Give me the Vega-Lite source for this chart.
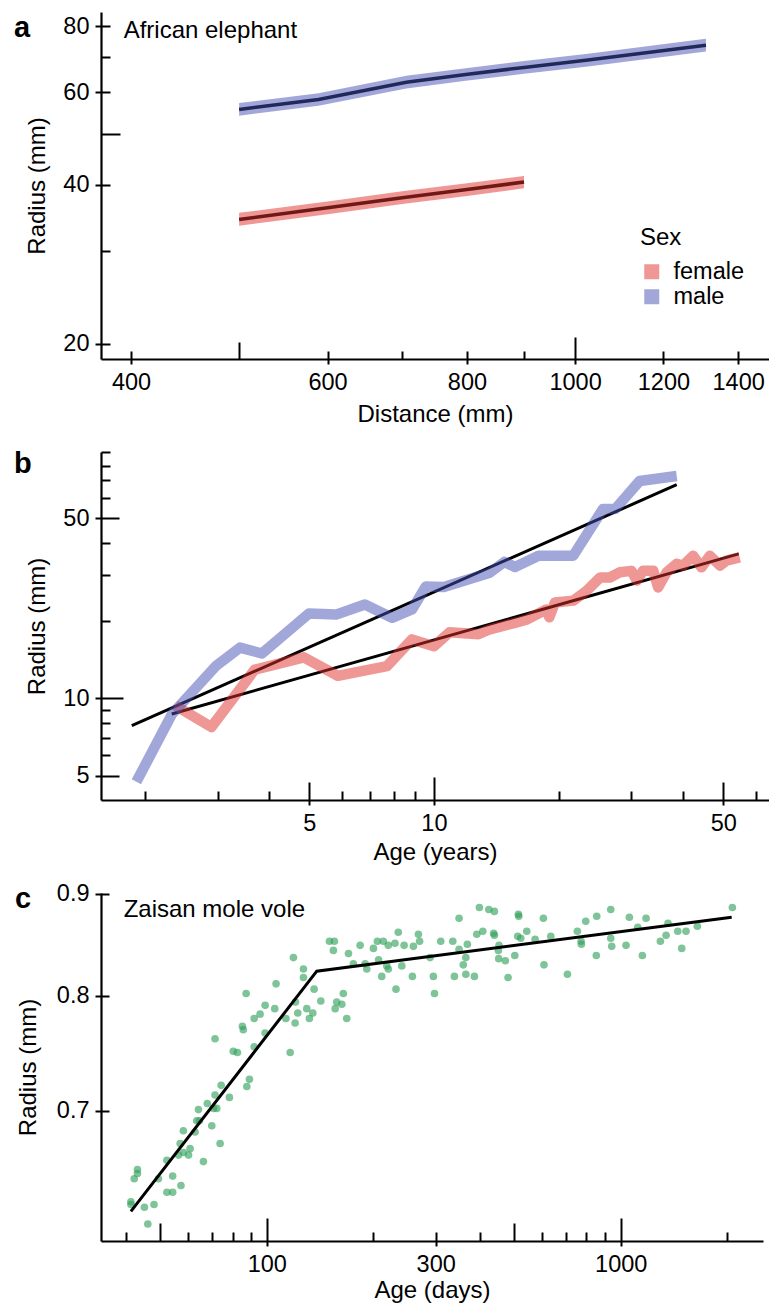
{
  "$schema": "https://vega.github.io/schema/vega-lite/v6.json",
  "background": "white",
  "padding": {"left": 14, "top": 12, "right": 0, "bottom": 0},
  "spacing": 93,
  "bounds": "flush",
  "config": {
    "view": {"stroke": null},
    "font": "Liberation Sans",
    "axis": {"grid": false, "domainColor": "black", "domainWidth": 2.2, "tickColor": "black", "tickWidth": 2, "labelColor": "black", "labelFontSize": 23.5, "titleFontSize": 24, "titleFontWeight": "normal", "titleColor": "black", "labelFont": "Liberation Sans", "titleFont": "Liberation Sans", "labelOverlap": false, "labelBound": false, "labelFlush": false}
  },
  "vconcat": [
    {
      "width": 668, "height": 347,
      "title": {"text": "a", "anchor": "start", "frame": "group", "orient": "top", "baseline": "alphabetic", "offset": -54, "dx": -87, "fontSize": 29, "fontWeight": "bold", "font": "Liberation Sans", "color": "black"},
      "data": {"values": [
        {"sex":"female","dist":500,"r":34.4,"lo":33.45,"hi":35.4},
        {"sex":"female","dist":600,"r":36.2,"lo":35.2,"hi":37.2},
        {"sex":"female","dist":700,"r":37.8,"lo":36.8,"hi":38.9},
        {"sex":"female","dist":800,"r":39.2,"lo":38.1,"hi":40.3},
        {"sex":"female","dist":900,"r":40.5,"lo":39.4,"hi":41.6},
        {"sex":"male","dist":500,"r":55.6,"lo":54.1,"hi":57.2},
        {"sex":"male","dist":589,"r":58.1,"lo":56.5,"hi":59.7},
        {"sex":"male","dist":706,"r":62.6,"lo":60.9,"hi":64.4},
        {"sex":"male","dist":798,"r":64.8,"lo":63.0,"hi":66.6},
        {"sex":"male","dist":900,"r":66.8,"lo":65.0,"hi":68.7},
        {"sex":"male","dist":1027,"r":69.0,"lo":67.1,"hi":70.9},
        {"sex":"male","dist":1310,"r":73.6,"lo":71.6,"hi":75.7}
      ]},
      "layer": [
        {
          "mark": {"type": "line", "color": "black", "strokeWidth": 3.5},
          "encoding": {
            "x": {"field": "dist", "type": "quantitative", "scale": {"type": "log", "domain": [376, 1492], "nice": false},
                  "axis": {"orient": "bottom", "values": [400,600,800,1000,1200,1400], "format": "d", "tickSize": 5, "labelPadding": 6, "title": "Distance (mm)", "titlePadding": 9}},
            "y": {"field": "r", "type": "quantitative", "scale": {"type": "log", "domain": [18.7, 85.1], "nice": false},
                  "axis": {"orient": "left", "values": [20,40,60,80], "format": "d", "tickSize": 6, "labelPadding": 6, "title": "Radius (mm)", "titlePadding": 13}},
            "detail": {"field": "sex"}
          }
        },
        {
          "mark": {"type": "area", "opacity": 0.5},
          "encoding": {
            "x": {"field": "dist", "type": "quantitative", "scale": {"type": "log", "domain": [376, 1492], "nice": false},
                  "axis": {"orient": "bottom", "values": [400,500,600,700,800,900,1000,1200,1400], "labels": false, "domain": false, "title": null,
                           "tickSize": {"condition": [{"test": "datum.value == 1000", "value": -22}, {"test": "datum.value == 500", "value": -17}], "value": -8}}},
            "y": {"field": "lo", "type": "quantitative", "stack": null, "scale": {"type": "log", "domain": [18.7, 85.1], "nice": false},
                  "axis": {"orient": "left", "values": [20,30,40,50,60,70,80], "labels": false, "domain": false, "title": null,
                           "tickSize": {"condition": {"test": "datum.value == 50", "value": -19}, "value": -9}}},
            "y2": {"field": "hi"},
            "color": {"field": "sex", "type": "nominal", "scale": {"domain": ["female", "male"], "range": ["#E0302A", "#4650B4"]},
                      "legend": {"title": "Sex", "orient": "none", "legendX": 539, "legendY": 214, "symbolType": "square", "symbolSize": 225, "symbolOpacity": 0.5, "symbolStrokeWidth": 0, "labelFontSize": 23.5, "titleFontSize": 24, "titleFontWeight": "normal", "labelFont": "Liberation Sans", "titleFont": "Liberation Sans", "labelColor": "black", "titleColor": "black", "labelOffset": 10, "rowPadding": 0, "titlePadding": 10}}
          }
        },
        {
          "data": {"values": [{"label": "African elephant"}]},
          "mark": {"type": "text", "align": "left", "baseline": "alphabetic", "fontSize": 24, "font": "Liberation Sans", "color": "black"},
          "encoding": {
            "x": {"datum": 394, "type": "quantitative", "axis": null},
            "y": {"datum": 76, "type": "quantitative", "axis": null},
            "text": {"field": "label"}
          }
        }
      ],
      "resolve": {"axis": {"x": "independent", "y": "independent"}}
    },
    {
      "width": 668, "height": 348,
      "title": {"text": "b", "anchor": "start", "frame": "group", "orient": "top", "baseline": "alphabetic", "offset": -51, "dx": -87, "fontSize": 29, "fontWeight": "bold", "font": "Liberation Sans", "color": "black"},
      "layer": [
        {
          "data": {"values": [
            {"sex":"female","age":2.325,"r":8.67},{"sex":"female","age":54.5,"r":36.3},
            {"sex":"male","age":1.862,"r":7.82},{"sex":"male","age":38.6,"r":67.4}
          ]},
          "mark": {"type": "line", "color": "black", "strokeWidth": 3},
          "encoding": {
            "x": {"field": "age", "type": "quantitative", "scale": {"type": "log", "domain": [1.569, 64.5], "nice": false},
                  "axis": {"orient": "bottom", "values": [5,10,50], "format": "d", "tickSize": 5, "labelPadding": 6, "title": "Age (years)", "titlePadding": 6}},
            "y": {"field": "r", "type": "quantitative", "scale": {"type": "log", "domain": [4.02, 90.3], "nice": false},
                  "axis": {"orient": "left", "values": [5,10,50], "format": "d", "tickSize": 6, "labelPadding": 6, "title": "Radius (mm)", "titlePadding": 13}},
            "detail": {"field": "sex"}
          }
        },
        {
          "data": {"values": [
            {"sex":"female","age":2.37,"r":9.36},{"sex":"female","age":2.9,"r":7.72},{"sex":"female","age":3.69,"r":12.9},{"sex":"female","age":4.85,"r":14.4},
            {"sex":"female","age":5.86,"r":12.2},{"sex":"female","age":7.7,"r":13.3},{"sex":"female","age":8.85,"r":16.9},{"sex":"female","age":10.0,"r":15.9},
            {"sex":"female","age":10.9,"r":18.0},{"sex":"female","age":12.8,"r":17.7},{"sex":"female","age":13.65,"r":18.5},{"sex":"female","age":15.7,"r":19.6},
            {"sex":"female","age":16.8,"r":20.2},{"sex":"female","age":18.7,"r":22.1},{"sex":"female","age":19.0,"r":20.6},{"sex":"female","age":19.6,"r":23.5},
            {"sex":"female","age":21.7,"r":23.9},{"sex":"female","age":23.4,"r":26.1},{"sex":"female","age":25.2,"r":29.4},{"sex":"female","age":26.6,"r":29.4},
            {"sex":"female","age":28.1,"r":30.8},{"sex":"female","age":30.0,"r":31.2},{"sex":"female","age":30.9,"r":28.6},{"sex":"female","age":32.0,"r":31.2},
            {"sex":"female","age":33.9,"r":31.2},{"sex":"female","age":34.8,"r":26.9},{"sex":"female","age":36.5,"r":30.8},{"sex":"female","age":38.6,"r":33.2},
            {"sex":"female","age":40.0,"r":32.7},{"sex":"female","age":42.3,"r":35.7},{"sex":"female","age":44.3,"r":32.2},{"sex":"female","age":46.4,"r":35.7},
            {"sex":"female","age":49.1,"r":32.7},{"sex":"female","age":50.9,"r":34.2},{"sex":"female","age":54.8,"r":35.2},
            {"sex":"male","age":1.91,"r":4.73},{"sex":"male","age":2.33,"r":8.68},{"sex":"male","age":2.97,"r":13.3},{"sex":"male","age":3.4,"r":15.7},
            {"sex":"male","age":3.84,"r":14.9},{"sex":"male","age":4.99,"r":21.3},{"sex":"male","age":5.8,"r":21.1},{"sex":"male","age":6.81,"r":23.1},
            {"sex":"male","age":7.92,"r":20.5},{"sex":"male","age":8.85,"r":22.1},{"sex":"male","age":9.56,"r":27.1},{"sex":"male","age":10.57,"r":27.0},
            {"sex":"male","age":13.65,"r":30.7},{"sex":"male","age":14.8,"r":33.8},{"sex":"male","age":15.7,"r":32.3},{"sex":"male","age":17.9,"r":35.7},
            {"sex":"male","age":21.7,"r":35.7},{"sex":"male","age":25.6,"r":54.2},{"sex":"male","age":27.4,"r":54.2},{"sex":"male","age":31.4,"r":69.7},
            {"sex":"male","age":38.6,"r":72.9}
          ]},
          "mark": {"type": "line", "strokeWidth": 10.5, "opacity": 0.5, "strokeJoin": "round"},
          "encoding": {
            "x": {"field": "age", "type": "quantitative", "scale": {"type": "log", "domain": [1.569, 64.5], "nice": false},
                  "axis": {"orient": "bottom", "values": [2,3,4,5,6,7,8,9,10,20,30,40,50,60], "labels": false, "domain": false, "title": null,
                           "tickSize": {"condition": [{"test": "datum.value == 10", "value": -23}, {"test": "datum.value == 5 || datum.value == 50", "value": -18}], "value": -9}}},
            "y": {"field": "r", "type": "quantitative", "scale": {"type": "log", "domain": [4.02, 90.3], "nice": false},
                  "axis": {"orient": "left", "values": [5,6,7,8,9,10,20,30,40,50,60,70,80,90], "labels": false, "domain": false, "title": null,
                           "tickSize": {"condition": [{"test": "datum.value == 10", "value": -22}, {"test": "datum.value == 5 || datum.value == 50", "value": -18}], "value": -9}}},
            "color": {"field": "sex", "type": "nominal", "scale": {"domain": ["female", "male"], "range": ["#E0302A", "#4650B4"]}, "legend": null}
          }
        }
      ],
      "resolve": {"axis": {"x": "independent", "y": "independent"}}
    },
    {
      "width": 662, "height": 348,
      "title": {"text": "c", "anchor": "start", "frame": "group", "orient": "top", "baseline": "alphabetic", "offset": -55, "dx": -86, "fontSize": 29, "fontWeight": "bold", "font": "Liberation Sans", "color": "black"},
      "layer": [
        {
          "data": {"values": [
            {"d":87.4,"r":0.802},{"d":106.2,"r":0.811},{"d":118.9,"r":0.836},{"d":126.9,"r":0.825},{"d":126.9,"r":0.817},{"d":136,"r":0.806},
            {"d":142.1,"r":0.795},{"d":98.9,"r":0.791},{"d":95.7,"r":0.783},{"d":92.1,"r":0.779},{"d":85.3,"r":0.772},{"d":85.8,"r":0.769},
            {"d":105.3,"r":0.788},{"d":120.5,"r":0.794},{"d":113.2,"r":0.779},{"d":122.3,"r":0.784},{"d":120.2,"r":0.775},{"d":129.7,"r":0.788},
            {"d":134.9,"r":0.784},{"d":131.9,"r":0.779},{"d":71.4,"r":0.761},{"d":80.4,"r":0.75},{"d":82.6,"r":0.749},{"d":92.1,"r":0.754},
            {"d":98.9,"r":0.766},{"d":116.4,"r":0.749},{"d":89.3,"r":0.726},{"d":87.8,"r":0.72},{"d":74.3,"r":0.721},{"d":78.4,"r":0.711},
            {"d":150.3,"r":0.852},{"d":155.2,"r":0.852},{"d":154.2,"r":0.843},{"d":170.1,"r":0.84},{"d":183.5,"r":0.848},{"d":164.5,"r":0.802},
            {"d":157.6,"r":0.794},{"d":162.9,"r":0.792},{"d":156,"r":0.788},{"d":168.2,"r":0.779},{"d":175.6,"r":0.83},{"d":189.6,"r":0.83},
            {"d":191.6,"r":0.825},{"d":200.1,"r":0.845},{"d":205.3,"r":0.852},{"d":213.4,"r":0.852},{"d":220.4,"r":0.848},{"d":230.2,"r":0.85},
            {"d":206.9,"r":0.834},{"d":220.4,"r":0.825},{"d":211.2,"r":0.818},{"d":231.7,"r":0.806},{"d":235.2,"r":0.861},
            {"d":71.4,"r":0.713},{"d":72.2,"r":0.702},{"d":70.7,"r":0.702},{"d":67.9,"r":0.706},{"d":64.1,"r":0.701},{"d":63.4,"r":0.692},
            {"d":64.5,"r":0.692},{"d":62.7,"r":0.683},{"d":58.1,"r":0.684},{"d":56.9,"r":0.674},{"d":60.7,"r":0.67},{"d":60.1,"r":0.665},
            {"d":58.1,"r":0.667},{"d":56.3,"r":0.665},{"d":52.2,"r":0.661},{"d":66.2,"r":0.66},{"d":73.8,"r":0.674},{"d":69.9,"r":0.688},
            {"d":49.4,"r":0.647},{"d":54.2,"r":0.649},{"d":52.2,"r":0.637},{"d":54.2,"r":0.637},{"d":57.2,"r":0.642},{"d":48.0,"r":0.628},
            {"d":45.1,"r":0.626},{"d":46.1,"r":0.614},{"d":41.3,"r":0.63},{"d":41.3,"r":0.628},{"d":42.2,"r":0.647},{"d":43.1,"r":0.651},
            {"d":43.1,"r":0.654},
            {"d":244.3,"r":0.848},{"d":259.5,"r":0.847},{"d":268.1,"r":0.859},{"d":270.2,"r":0.852},{"d":218.3,"r":0.828},{"d":240.7,"r":0.828},
            {"d":257.8,"r":0.818},{"d":289.3,"r":0.836},{"d":295.5,"r":0.818},{"d":297.7,"r":0.802},{"d":310,"r":0.852},{"d":335.3,"r":0.852},
            {"d":349.3,"r":0.875},{"d":349.3,"r":0.844},{"d":368.7,"r":0.849},{"d":365,"r":0.836},{"d":359,"r":0.829},{"d":338.8,"r":0.818},
            {"d":365,"r":0.82},{"d":385.9,"r":0.818},{"d":392,"r":0.859},{"d":407.6,"r":0.862},{"d":398.7,"r":0.886},{"d":423.8,"r":0.884},
            {"d":439.5,"r":0.882},{"d":437.4,"r":0.86},{"d":439.5,"r":0.858},{"d":453,"r":0.848},{"d":451,"r":0.843},{"d":452,"r":0.835},
            {"d":472,"r":0.833},{"d":480.4,"r":0.817},{"d":501.9,"r":0.838},{"d":513.7,"r":0.879},{"d":515,"r":0.877},{"d":511.5,"r":0.857},
            {"d":521.8,"r":0.855},{"d":542.5,"r":0.862},{"d":572.8,"r":0.854},{"d":604.5,"r":0.875},{"d":606.9,"r":0.829},{"d":634.3,"r":0.857},
            {"d":706.8,"r":0.82},{"d":754.1,"r":0.862},{"d":772.5,"r":0.852},{"d":774,"r":0.849},{"d":796.3,"r":0.872},{"d":855.4,"r":0.877},
            {"d":853,"r":0.838},{"d":937,"r":0.884},{"d":937,"r":0.855},{"d":943,"r":0.847},{"d":1035,"r":0.848},{"d":1057.6,"r":0.876},
            {"d":1117,"r":0.866},{"d":1151,"r":0.838},{"d":1179,"r":0.875},{"d":1294,"r":0.852},{"d":1343,"r":0.858},{"d":1360,"r":0.87},
            {"d":1449,"r":0.862},{"d":1487,"r":0.845},{"d":1529,"r":0.862},{"d":1646,"r":0.867},{"d":2067,"r":0.886}
          ]},
          "mark": {"type": "circle", "color": "#2E9F58", "opacity": 0.62, "size": 58},
          "encoding": {
            "x": {"field": "d", "type": "quantitative", "scale": {"type": "log", "domain": [34.0, 2523], "nice": false},
                  "axis": {"orient": "bottom", "values": [100,300,1000], "format": "d", "tickSize": 5, "labelPadding": 6, "title": "Age (days)", "titlePadding": 3}},
            "y": {"field": "r", "type": "quantitative", "scale": {"type": "log", "domain": [0.602, 0.901], "nice": false},
                  "axis": {"orient": "left", "values": [0.7,0.8,0.9], "format": ".1f", "tickSize": 6, "labelPadding": 6, "title": "Radius (mm)", "titlePadding": 16}}
          }
        },
        {
          "data": {"values": [{"d":41.3,"r":0.623},{"d":138.4,"r":0.823},{"d":2058,"r":0.876}]},
          "mark": {"type": "line", "color": "black", "strokeWidth": 3},
          "encoding": {
            "x": {"field": "d", "type": "quantitative", "scale": {"type": "log", "domain": [34.0, 2523], "nice": false},
                  "axis": {"orient": "bottom", "values": [40,50,60,70,80,90,100,200,300,400,500,600,700,800,900,1000,2000], "labels": false, "domain": false, "title": null,
                           "tickSize": {"condition": [{"test": "datum.value == 100 || datum.value == 1000", "value": -23}, {"test": "datum.value == 50 || datum.value == 500", "value": -18}], "value": -9}}},
            "y": {"field": "r", "type": "quantitative", "scale": {"type": "log", "domain": [0.602, 0.901], "nice": false},
                  "axis": {"orient": "left", "values": [0.7,0.8,0.9], "labels": false, "domain": false, "title": null, "tickSize": -8}}
          }
        },
        {
          "data": {"values": [{"label": "Zaisan mole vole"}]},
          "mark": {"type": "text", "align": "left", "baseline": "alphabetic", "fontSize": 24, "font": "Liberation Sans", "color": "black"},
          "encoding": {
            "x": {"datum": 39.4, "type": "quantitative", "axis": null},
            "y": {"datum": 0.876, "type": "quantitative", "axis": null},
            "text": {"field": "label"}
          }
        }
      ],
      "resolve": {"axis": {"x": "independent", "y": "independent"}}
    }
  ]
}
